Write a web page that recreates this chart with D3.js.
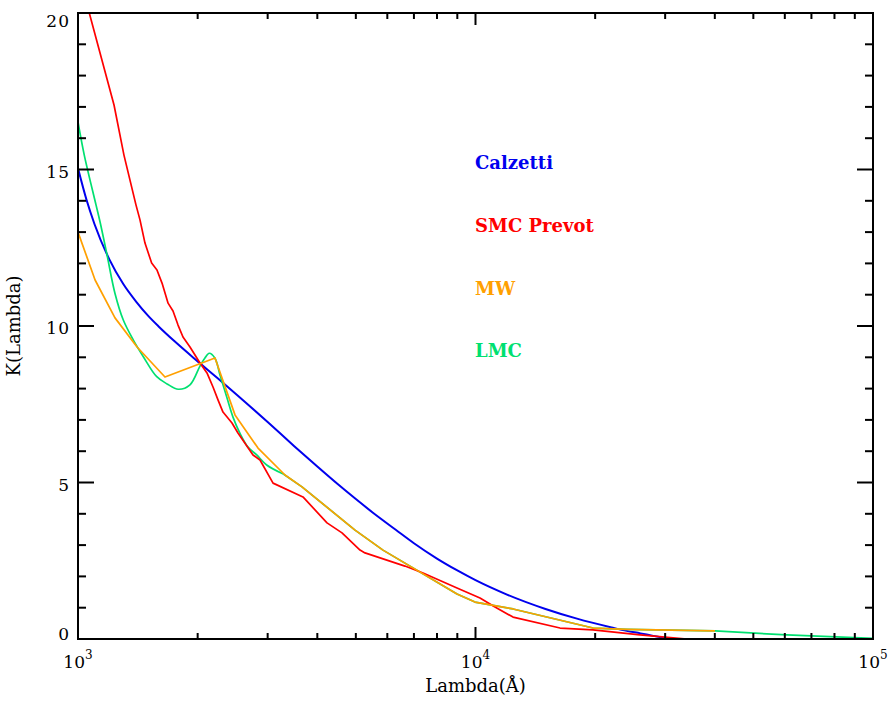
<!DOCTYPE html>
<html>
<head>
<meta charset="utf-8">
<script src="https://cdn.jsdelivr.net/npm/d3@7"></script>
<style>
  body { margin: 0; background: #fff; }
  text { font-family: "DejaVu Serif", serif; fill: #000; }
</style>
</head>
<body>
<svg width="891" height="702"></svg>
<script>
// extinction curves, wavelength in Angstrom, k(lambda)
var calzLam = [1000, 1050, 1100, 1200, 1300, 1400, 1500, 1600, 1750, 2000, 2250, 2500, 3000, 3500, 4000, 4500, 5000, 5500, 6300, 7000, 8000, 9000, 10000, 12000, 15000, 18000, 22000, 24000, 26000, 28000, 31000];
var calzK   = [15.04, 14.04, 13.26, 12.12, 11.34, 10.78, 10.33, 9.97, 9.51, 8.87, 8.32, 7.82, 6.93, 6.16, 5.51, 4.95, 4.47, 4.05, 3.49, 3.06, 2.57, 2.19, 1.88, 1.42, 0.96, 0.65, 0.37, 0.26, 0.18, 0.10, 0.0];

var smcLam = [1000, 1066, 1232, 1305, 1399, 1432, 1474, 1532, 1580, 1627, 1685, 1734, 1785, 1837, 1913, 2027, 2111, 2186, 2250, 2316, 2440, 2526, 2756, 2870, 3095, 3681, 4231, 4615, 5122, 5272, 6645, 7378, 8984, 10264, 11195, 12428, 16316, 19754, 25934, 34047, 100000];
var smcK   = [21.34, 20.03, 17.06, 15.46, 13.87, 13.39, 12.65, 12.01, 11.79, 11.37, 10.73, 10.48, 10.03, 9.65, 9.33, 8.82, 8.50, 8.05, 7.64, 7.25, 6.90, 6.58, 5.88, 5.72, 4.98, 4.54, 3.71, 3.39, 2.84, 2.75, 2.33, 2.11, 1.63, 1.31, 1.02, 0.70, 0.35, 0.29, 0.13, 0.0, 0.0];

var mwLam = [1000, 1104, 1239, 1408, 1655, 2211, 2483, 2837, 3317, 3660, 4977, 5852, 8984, 9970, 12428, 19754, 24050, 40040];
var mwK   = [13.0, 11.47, 10.26, 9.33, 8.37, 8.98, 7.16, 6.10, 5.24, 4.86, 3.48, 2.84, 1.44, 1.18, 0.96, 0.35, 0.31, 0.26];

var lmcLam = [1000, 1037, 1110, 1136, 1181, 1239, 1300, 1378, 1460, 1578, 1675, 1788, 1913, 2027, 2086, 2139, 2211, 2277, 2367, 2454, 2556, 2677, 2816, 2983, 3285, 3660, 4977, 5852, 8984, 9970, 12428, 19754, 24050, 40040, 60660, 100000];
var lmcK   = [16.52, 15.46, 13.87, 13.33, 12.32, 11.04, 10.19, 9.55, 9.02, 8.38, 8.15, 7.98, 8.12, 8.72, 8.98, 9.13, 8.97, 8.43, 7.73, 7.09, 6.57, 6.13, 5.88, 5.56, 5.27, 4.86, 3.48, 2.84, 1.44, 1.18, 0.96, 0.35, 0.31, 0.26, 0.13, 0.02];

var legendNames  = ["Calzetti", "SMC Prevot", "MW", "LMC"];
var legendColors = ["#0000ee", "#ff0000", "#ffa000", "#00e070"];

var yMajor = [0, 5, 10, 15, 20];
var yMinor = d3.range(0, 21, 1);
var xMajor = [1e3, 1e4, 1e5];
var xExp   = ["3", "4", "5"];
var xMinor = [2e3,3e3,4e3,5e3,6e3,7e3,8e3,9e3,2e4,3e4,4e4,5e4,6e4,7e4,8e4,9e4];

var svg = d3.select("svg");
var pL = 78, pR = 873, pT = 13, pB = 639;

var x = d3.scaleLog().domain([1e3, 1e5]).range([pL, pR]);
var y = d3.scaleLinear().domain([0, 20]).range([pB, pT]);

svg.append("clipPath").attr("id", "clip")
  .append("rect").attr("x", pL).attr("y", pT)
  .attr("width", pR - pL).attr("height", pB - pT);

function zip(l, k) { return l.map(function (d, i) { return [d, k[i]]; }); }

function mkLine(curve) {
  return d3.line()
    .x(function (d) { return x(d[0]); })
    .y(function (d) { return y(d[1]); })
    .curve(curve);
}

var lmcAll = zip(lmcLam, lmcK);
var g = svg.append("g").attr("clip-path", "url(#clip)");
var series = [
  { d: zip(calzLam, calzK), c: legendColors[0], w: 2, cv: d3.curveMonotoneX },
  { d: lmcAll.slice(0, 25), c: legendColors[3], w: 1.7, cv: d3.curveCatmullRom },
  { d: lmcAll.slice(24), c: legendColors[3], w: 1.7, cv: d3.curveLinear },
  { d: zip(smcLam, smcK), c: legendColors[1], w: 1.7, cv: d3.curveLinear },
  { d: zip(mwLam, mwK), c: legendColors[2], w: 1.7, cv: d3.curveLinear }
];
g.selectAll("path").data(series).enter().append("path")
  .attr("d", function (s) { return mkLine(s.cv)(s.d); })
  .attr("fill", "none")
  .attr("stroke", function (s) { return s.c; })
  .attr("stroke-width", function (s) { return s.w; })
  .attr("stroke-linejoin", "round");

// frame
var ax = svg.append("g").attr("stroke", "#000").attr("stroke-width", 2);
ax.append("rect").attr("x", pL).attr("y", pT)
  .attr("width", pR - pL).attr("height", pB - pT).attr("fill", "none");

// y ticks, left and right
yMinor.forEach(function (v) {
  var len = yMajor.indexOf(v) >= 0 ? 16 : 8;
  ax.append("line").attr("x1", pL).attr("x2", pL + len).attr("y1", y(v)).attr("y2", y(v));
  ax.append("line").attr("x1", pR).attr("x2", pR - len).attr("y1", y(v)).attr("y2", y(v));
});
// x ticks, bottom and top
xMajor.concat(xMinor).forEach(function (v) {
  var len = xMajor.indexOf(v) >= 0 ? 12 : 6;
  ax.append("line").attr("x1", x(v)).attr("x2", x(v)).attr("y1", pB).attr("y2", pB - len);
  ax.append("line").attr("x1", x(v)).attr("x2", x(v)).attr("y1", pT).attr("y2", pT + len);
});

// y labels
svg.selectAll(".ylab").data(yMajor).enter().append("text")
  .attr("class", "ylab")
  .attr("x", 70)
  .attr("y", function (v) { return y(v) + (v === 0 ? 1 : v === 20 ? 14 : 8); })
  .attr("text-anchor", "end")
  .style("font-size", "17px")
  .style("letter-spacing", "1px")
  .text(function (v) { return v; });

// x labels 10^n
xMajor.forEach(function (v, i) {
  var t = svg.append("text")
    .attr("x", x(v)).attr("y", 668)
    .attr("text-anchor", "middle")
    .style("font-size", "17px");
  t.append("tspan").text("10");
  t.append("tspan").attr("dy", -9).style("font-size", "12px").text(xExp[i]);
});

svg.append("text")
  .attr("x", (pL + pR) / 2).attr("y", 692)
  .attr("text-anchor", "middle")
  .style("font-size", "18px")
  .text("Lambda(Å)");

svg.append("text")
  .attr("transform", "translate(20," + ((pT + pB) / 2) + ") rotate(-90)")
  .attr("text-anchor", "middle")
  .style("font-size", "18px")
  .text("K(Lambda)");

// legend
svg.selectAll(".leg").data(legendNames).enter().append("text")
  .attr("class", "leg")
  .attr("x", 475)
  .attr("y", function (d, i) { return 169 + i * 62.8; })
  .style("font-size", "18px")
  .style("font-weight", "bold")
  .style("fill", function (d, i) { return legendColors[i]; })
  .text(function (d) { return d; });
</script>
</body>
</html>
